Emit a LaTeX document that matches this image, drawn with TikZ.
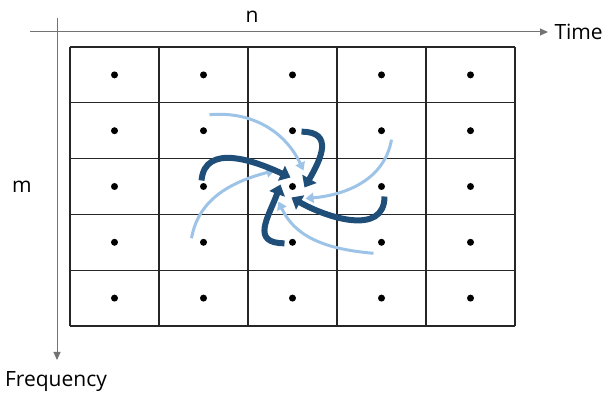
\documentclass[tikz,border=0pt]{standalone}
\usepackage{fontspec}
\setmainfont{Open Sans}
\usetikzlibrary{arrows.meta, positioning, calc}
\definecolor{darkblue}{HTML}{1F4E79}
\definecolor{lightblue}{HTML}{9DC3E6}

\begin{document}
\begin{tikzpicture}[x=1pt, y=1pt,
    axis/.style={draw=black!55, line width=1pt, -{Triangle[length=8pt,width=7pt]}},
    cellline/.style={draw=black!85, line width=1.3pt},
    dot/.style={circle, fill=black, inner sep=0pt, minimum size=7pt},
    lbl/.style={font=\fontsize{21}{24}\selectfont},
    dark/.style={draw=darkblue, line width=6pt, -{Triangle[length=10pt,width=16pt]}},
    light/.style={draw=lightblue, line width=3pt, -{Triangle[length=8pt,width=10pt]}}
]
    \useasboundingbox (0,0) rectangle (614,394);
    % axes
    \coordinate (h0) at (30,362);
    \coordinate (h1) at (548,362);
    \coordinate (v0) at (57,376);
    \coordinate (v1) at (57,34);
    \draw[axis] (h0) -- (h1);
    \draw[axis] (v0) -- (v1);
    \node[lbl, anchor=west] (time) at (551,362) {Time};
    \node[lbl] (n) at (252,377) {n};
    \node[lbl] (m) at (22,207) {m};
    \node[lbl] (freq) at (56,12) {Frequency};
    % grid of cells
    \foreach \i in {0,...,5}
        \draw[cellline] (70+89*\i,68) -- (70+89*\i,347);
    \foreach \j in {0,...,5}
        \draw[cellline] (70,347-55.8*\j) -- (515,347-55.8*\j);
    \foreach \i in {1,...,5}
        \foreach \j in {1,...,5}
            \node[dot] (d\i\j) at (114.5+89*\i-89,319.1-55.8*\j+55.8) {};
    % light arrows from the diagonal neighbours
    \draw[light] ($(d22)+(6,16)$) to[out=5, in=115] ($(d33)+(11,16)$);
    \draw[light] ($(d42)+(10,-9)$) to[out=-100, in=5] ($(d33)+(13,-12)$);
    \draw[light] ($(d44)+(-8,-11)$) to[out=175, in=-65] ($(d33)+(-14,-15)$);
    \draw[light] ($(d24)+(-12,4)$) to[out=80, in=195] ($(d33)+(-18,16)$);
    % dark arrows from the direct neighbours
    \draw[dark] ($(d23)+(-2,6)$) to[out=85, in=155, looseness=1.1] ($(d33)+(-2,9)$);
    \draw[dark] ($(d32)+(9,-1)$) to[out=0, in=60, looseness=1.5] ($(d33)+(12,-1)$);
    \draw[dark] ($(d43)+(3,-10)$) to[out=-90, in=-30, looseness=1.1] ($(d33)+(-1,-11)$);
    \draw[dark] ($(d34)+(-8,-1)$) to[out=180, in=-110, looseness=1.5] ($(d33)+(-12,2)$);
\end{tikzpicture}
\end{document}
